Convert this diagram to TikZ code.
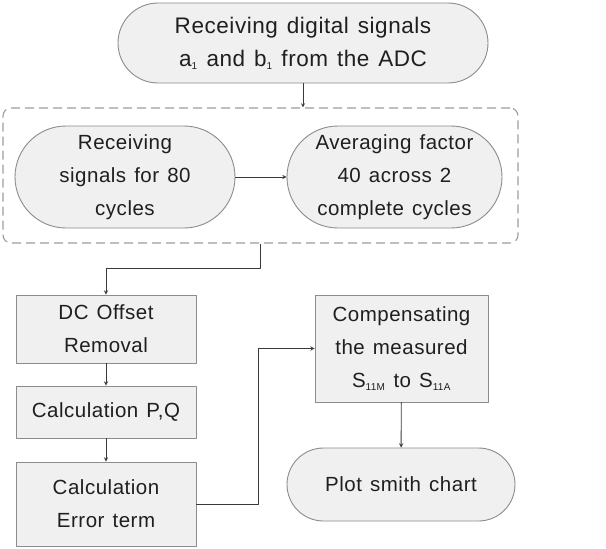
\documentclass[tikz,border=0pt]{standalone}
\usepackage{fontspec}
\setmainfont[LetterSpace=2.5,WordSpace=1.3]{Liberation Sans}
\usetikzlibrary{arrows}
\definecolor{boxfill}{HTML}{F0F0F0}
\definecolor{boxline}{HTML}{8C8C8C}
\definecolor{wire}{HTML}{3A3A3A}
\tikzset{
  txt/.style={align=center, text=black!88, font=\fontsize{20.5}{33}\selectfont, inner sep=0pt},
  stadium/.style={txt, draw=boxline, fill=boxfill, line width=0.9pt},
  stepbox/.style={txt, draw=boxline, fill=boxfill, line width=0.9pt},
  wired/.style={->, draw=wire, line width=0.9pt}
}
\newcommand{\sub}[1]{\textsubscript{\fontsize{10}{10}\selectfont #1}}
\begin{document}
\begin{tikzpicture}[>=stealth, x=1pt, y=-1pt, line join=round]
	\useasboundingbox (0,0) rectangle (606,549);
	%\draw[line width=0.05pt,gray,dashed] (0,0) grid[step=50] (606,549);
	\node[stadium, font=\fontsize{22.5}{33}\selectfont, minimum width=370, minimum height=80, rounded corners=40] (adc) at (303,43)
		{Receiving digital signals\\a\sub{1} and b\sub{1} from the ADC};
	\node[draw=boxline!85, dash pattern=on 9pt off 5pt, line width=1.1pt, rounded corners=8, minimum width=515, minimum height=135] (group) at (260.5,175.5) {};
	\node[stadium, minimum width=220, minimum height=102, rounded corners=51] (recv) at (125,177)
		{Receiving\\signals for 80\\cycles};
	\node[stadium, minimum width=215, minimum height=102, rounded corners=51] (avg) at (394.5,177)
		{Averaging factor\\40 across 2\\complete cycles};
	\node[stepbox, minimum width=180, minimum height=68] (dc) at (106,329) {DC Offset\\Removal};
	\node[stepbox, minimum width=180, minimum height=52] (pq) at (106,412) {Calculation P,Q};
	\node[stepbox, minimum width=180, minimum height=84] (err) at (106,504) {Calculation\\Error term};
	\node[stepbox, minimum width=173, minimum height=107] (comp) at (401.5,348.5)
		{Compensating\\the measured\\S\sub{11M} to S\sub{11A}};
	\node[stadium, minimum width=228, minimum height=73, rounded corners=36.5] (smith) at (401,484.5)
		{Plot smith chart};
	\draw[wired] (adc) -- (adc |- group.north);
	\draw[wired] (recv) -- (avg);
	\draw[wired] (group.south) -- ++(0,25) -| (dc.north);
	\draw[wired] (dc) -- (pq);
	\draw[wired] (pq) -- (err);
	\draw[wired] (err.east) -- ++(62,0) |- (comp.west);
	\draw[wired] (comp) -- (smith);
\end{tikzpicture}
\end{document}
